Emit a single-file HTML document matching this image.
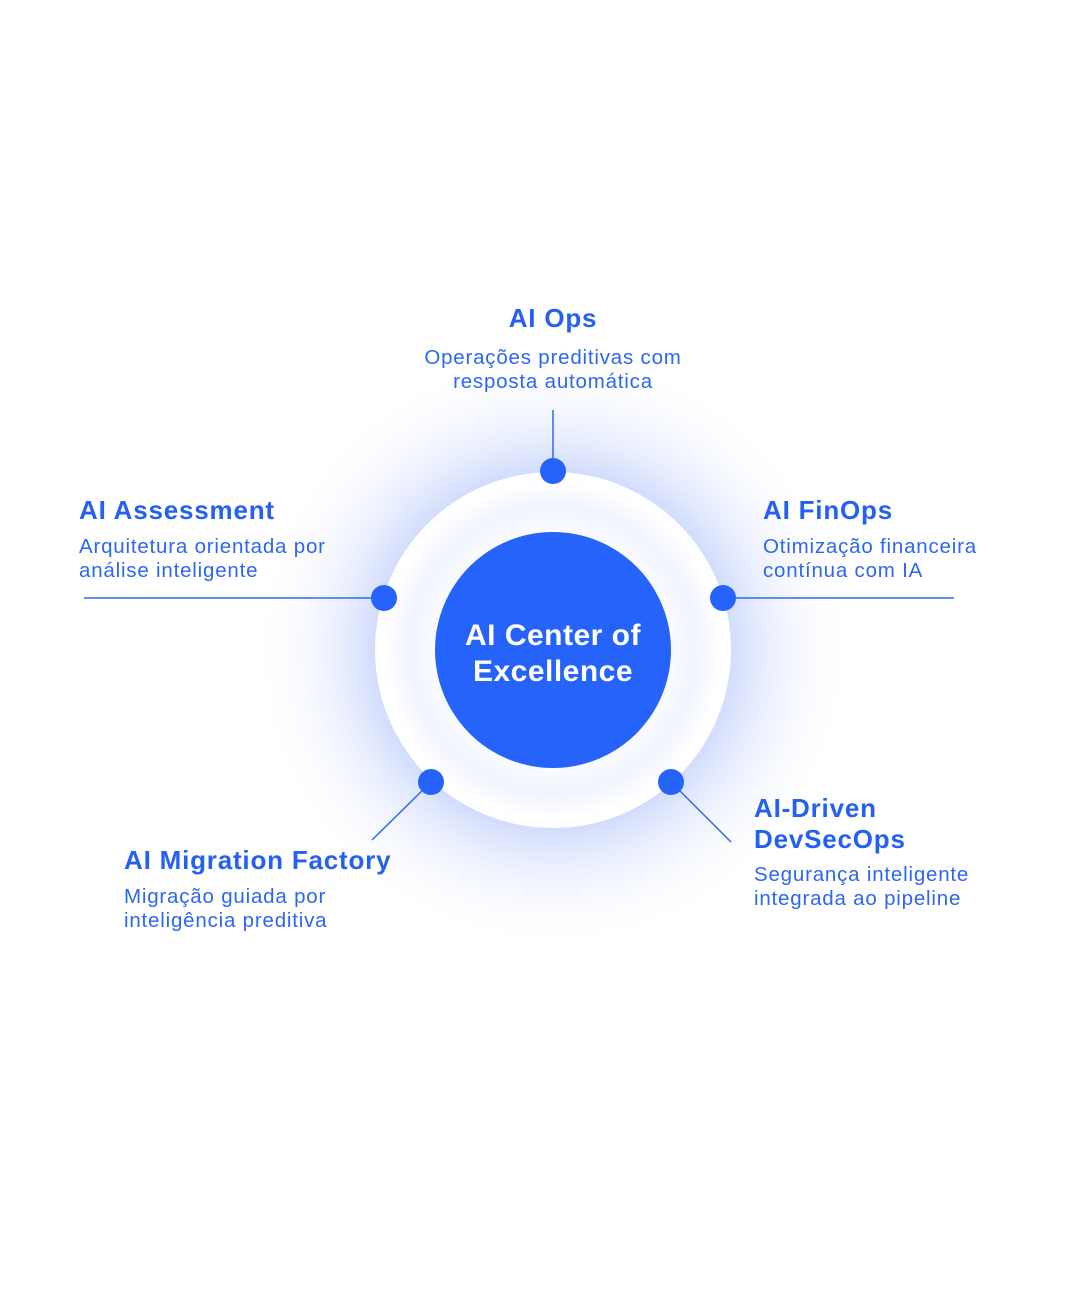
<!DOCTYPE html>
<html><head><meta charset="utf-8"><style>
body{margin:0;width:1080px;height:1300px;background:#fff;position:relative;overflow:hidden;font-family:"Liberation Sans",sans-serif;color:#2360f3}
.t{position:absolute;font-weight:bold;font-size:26px;letter-spacing:0.8px;white-space:nowrap;line-height:31px}
.d{position:absolute;font-size:20.5px;letter-spacing:0.8px;line-height:24px;white-space:nowrap;color:#2d66f4}
.c{text-align:center}
</style></head><body>
<svg width="1080" height="1300" style="position:absolute;left:0;top:0">
<defs>
<radialGradient id="g" cx="553" cy="650" r="300" gradientUnits="userSpaceOnUse">
<stop offset="0.55" stop-color="#c9d6fc"/>
<stop offset="0.68" stop-color="#e4eafe"/>
<stop offset="1" stop-color="#ffffff" stop-opacity="0"/>
</radialGradient>
<radialGradient id="w" cx="553" cy="650" r="178" gradientUnits="userSpaceOnUse">
<stop offset="0.6" stop-color="#ffffff"/>
<stop offset="0.8" stop-color="#f1f4ff"/>
<stop offset="0.95" stop-color="#ffffff"/>
</radialGradient>
</defs>
<circle cx="553" cy="650" r="300" fill="url(#g)"/>
<circle cx="553" cy="650" r="178" fill="url(#w)"/>
<circle cx="553" cy="650" r="118" fill="#2563fa"/>
<g stroke="#3068f2" stroke-width="1.5">
<line x1="553" y1="410" x2="553" y2="471"/>
<line x1="84" y1="598" x2="384" y2="598"/>
<line x1="723" y1="598" x2="954" y2="598"/>
<line x1="431" y1="782" x2="372" y2="840"/>
<line x1="671" y1="782" x2="731" y2="842"/>
</g>
<g fill="#2563fa">
<circle cx="553" cy="471" r="13"/>
<circle cx="384" cy="598" r="13"/>
<circle cx="723" cy="598" r="13"/>
<circle cx="431" cy="782" r="13"/>
<circle cx="671" cy="782" r="13"/>
</g>
<text x="553" y="645" text-anchor="middle" fill="#fff" font-family="Liberation Sans" font-weight="bold" font-size="30" letter-spacing="0.5">AI Center of</text>
<text x="553" y="681" text-anchor="middle" fill="#fff" font-family="Liberation Sans" font-weight="bold" font-size="30" letter-spacing="0.5">Excellence</text>
</svg>
<div class="t c" style="left:403px;width:300px;top:303px">AI Ops</div>
<div class="d c" style="left:353px;width:400px;top:346px">Operações preditivas com<br>resposta automática</div>
<div class="t" style="left:79px;top:495px">AI Assessment</div>
<div class="d" style="left:79px;top:535px">Arquitetura orientada por<br>análise inteligente</div>
<div class="t" style="left:763px;top:495px">AI FinOps</div>
<div class="d" style="left:763px;top:535px">Otimização financeira<br>contínua com IA</div>
<div class="t" style="left:124px;top:845px">AI Migration Factory</div>
<div class="d" style="left:124px;top:885px">Migração guiada por<br>inteligência preditiva</div>
<div class="t" style="left:754px;top:793px">AI-Driven<br>DevSecOps</div>
<div class="d" style="left:754px;top:863px">Segurança inteligente<br>integrada ao pipeline</div>
</body></html>
